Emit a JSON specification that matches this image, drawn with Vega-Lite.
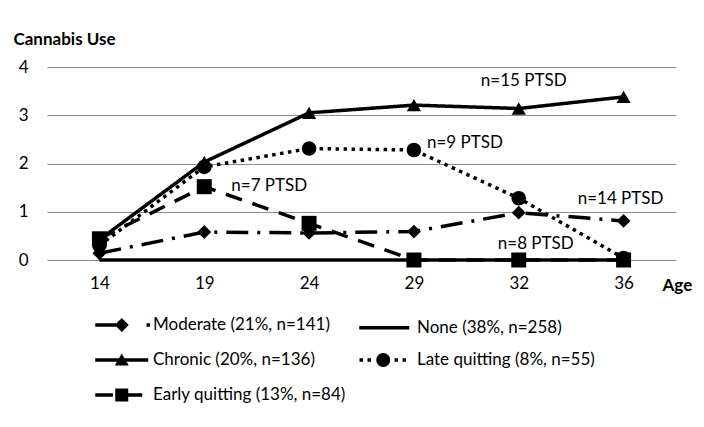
{
  "$schema": "https://vega.github.io/schema/vega-lite/v6.json",
  "width": 629,
  "height": 193,
  "autosize": {"type": "none"},
  "padding": {"left": 47, "top": 67, "right": 28, "bottom": 167},
  "background": "white",
  "config": {
    "font": "Lato",
    "view": {"stroke": null},
    "axis": {"labelFont": "Lato", "labelFontSize": 17, "labelColor": "black", "titleFont": "Lato", "titleFontSize": 17, "titleColor": "black", "titleFontWeight": "bold", "ticks": false, "domain": false}
  },
  "datasets": {
    "series": [
      {"group": "Moderate (21%, n=141)", "age": "14", "use": 0.14},
      {"group": "Moderate (21%, n=141)", "age": "19", "use": 0.58},
      {"group": "Moderate (21%, n=141)", "age": "24", "use": 0.56},
      {"group": "Moderate (21%, n=141)", "age": "29", "use": 0.59},
      {"group": "Moderate (21%, n=141)", "age": "32", "use": 0.98},
      {"group": "Moderate (21%, n=141)", "age": "36", "use": 0.81},
      {"group": "None (38%, n=258)", "age": "14", "use": 0},
      {"group": "None (38%, n=258)", "age": "19", "use": 0},
      {"group": "None (38%, n=258)", "age": "24", "use": 0},
      {"group": "None (38%, n=258)", "age": "29", "use": 0},
      {"group": "None (38%, n=258)", "age": "32", "use": 0},
      {"group": "None (38%, n=258)", "age": "36", "use": 0},
      {"group": "Chronic (20%, n=136)", "age": "14", "use": 0.42},
      {"group": "Chronic (20%, n=136)", "age": "19", "use": 2.03},
      {"group": "Chronic (20%, n=136)", "age": "24", "use": 3.05},
      {"group": "Chronic (20%, n=136)", "age": "29", "use": 3.21},
      {"group": "Chronic (20%, n=136)", "age": "32", "use": 3.14},
      {"group": "Chronic (20%, n=136)", "age": "36", "use": 3.38},
      {"group": "Late quitting (8%, n=55)", "age": "14", "use": 0.3},
      {"group": "Late quitting (8%, n=55)", "age": "19", "use": 1.93},
      {"group": "Late quitting (8%, n=55)", "age": "24", "use": 2.31},
      {"group": "Late quitting (8%, n=55)", "age": "29", "use": 2.28},
      {"group": "Late quitting (8%, n=55)", "age": "32", "use": 1.28},
      {"group": "Late quitting (8%, n=55)", "age": "36", "use": 0.04},
      {"group": "Early quitting (13%, n=84)", "age": "14", "use": 0.44},
      {"group": "Early quitting (13%, n=84)", "age": "19", "use": 1.52},
      {"group": "Early quitting (13%, n=84)", "age": "24", "use": 0.76},
      {"group": "Early quitting (13%, n=84)", "age": "29", "use": 0},
      {"group": "Early quitting (13%, n=84)", "age": "32", "use": 0},
      {"group": "Early quitting (13%, n=84)", "age": "36", "use": 0}
    ]
  },
  "resolve": {"scale": {"shape": "independent", "size": "independent"}, "legend": {"shape": "independent"}},
  "encoding": {
    "x": {"field": "age", "type": "ordinal", "scale": {"type": "point", "padding": 0.5, "domain": ["14", "19", "24", "29", "32", "36"]},
      "axis": {"title": "Age", "labelAngle": 0, "labelPadding": 15, "titleAngle": 0, "titleAlign": "left", "titleBaseline": "middle", "titleX": 615, "titleY": 25, "grid": false}},
    "y": {"field": "use", "type": "quantitative", "scale": {"domain": [0, 4], "nice": false, "zero": true},
      "axis": {"title": "Cannabis Use", "values": [0, 1, 2, 3, 4], "grid": true, "gridColor": "#8c8c8c", "gridWidth": 1, "labelPadding": 19, "titleAngle": 0, "titleAlign": "left", "titleBaseline": "middle", "titleX": -34, "titleY": -28}}
  },
  "layer": [
    {
      "data": {"name": "series"},
      "mark": {"type": "line", "color": "black", "strokeWidth": 3.5},
      "encoding": {
        "strokeDash": {"field": "group", "type": "nominal",
          "scale": {"domain": ["Moderate (21%, n=141)", "None (38%, n=258)", "Chronic (20%, n=136)", "Late quitting (8%, n=55)", "Early quitting (13%, n=84)"],
                    "range": [[22, 9, 3, 9], [1, 0], [1, 0], [3.5, 4.5], [17, 11]]},
          "legend": null
        }
      }
    },
    {
      "data": {"name": "series"},
      "transform": [{"filter": "datum.group !== 'None (38%, n=258)'"}],
      "mark": {"type": "point", "filled": true, "color": "black", "opacity": 1, "strokeWidth": 0},
      "encoding": {
        "shape": {"field": "group", "type": "nominal",
          "scale": {"domain": ["Moderate (21%, n=141)", "Chronic (20%, n=136)", "Late quitting (8%, n=55)", "Early quitting (13%, n=84)"],
                    "range": ["diamond", "triangle-up", "circle", "square"]}, "legend": null},
        "size": {"field": "group", "type": "nominal",
          "scale": {"domain": ["Moderate (21%, n=141)", "Chronic (20%, n=136)", "Late quitting (8%, n=55)", "Early quitting (13%, n=84)"],
                    "range": [190, 225, 215, 210]}, "legend": null}
      }
    },
    {
      "data": {"name": "series"},
      "transform": [{"filter": "false"}],
      "mark": {"type": "point", "filled": true, "color": "black", "opacity": 1, "size": 400},
      "encoding": {
        "shape": {"field": "group", "type": "nominal",
          "scale": {"domain": ["Moderate (21%, n=141)", "None (38%, n=258)", "Chronic (20%, n=136)", "Late quitting (8%, n=55)", "Early quitting (13%, n=84)"],
                    "range": [
                      "M-1.175,-0.175H0.9V0.175H-1.175ZM1.475,-0.7L2.175,0L1.475,0.7L0.775,0ZM3.95,-0.175H4.3V0.175H3.95Z",
                      "M-1.175,-0.175H3.825V0.175H-1.175Z",
                      "M-1.175,-0.175H4.125V0.175H-1.175ZM1.475,-0.65L2.175,0.55L0.775,0.55Z",
                      "M-1.15,-0.175H-0.8V0.175H-1.15ZM-0.35,-0.175H0V0.175H-0.35ZM2.35,-0.175H2.7V0.175H2.35ZM3.15,-0.175H3.5V0.175H3.15ZM1.925,0L1.872,0.268L1.72,0.495L1.493,0.647L1.225,0.7L0.957,0.647L0.73,0.495L0.578,0.268L0.525,0L0.578,-0.268L0.73,-0.495L0.957,-0.647L1.225,-0.7L1.493,-0.647L1.72,-0.495L1.872,-0.268Z",
                      "M-1.175,-0.175H0.6V0.175H-1.175ZM0.825,-0.65H2.125V0.65H0.825ZM2.125,-0.175H3.525V0.175H2.125Z"
                    ]},
          "legend": {
            "title": null, "orient": "none", "direction": "horizontal", "legendX": 48, "legendY": 246, "columns": 2, "columnPadding": 6, "rowPadding": 7,
            "symbolSize": 400, "symbolStrokeWidth": 3.5, "symbolFillColor": "black", "symbolOpacity": 1,
            "labelOffset": 34, "labelFont": "Lato", "labelFontSize": 17, "labelColor": "black", "labelLimit": 400
          }
        }
      }
    },
    {
      "data": {"values": [{"age": "32", "use": 3.71, "note": "n=15 PTSD"}]},
      "mark": {"type": "text", "font": "Lato", "fontSize": 17, "color": "black", "align": "center", "baseline": "middle", "dx": 5},
      "encoding": {"text": {"field": "note"}}
    },
    {
      "data": {"values": [{"age": "29", "use": 2.42, "note": "n=9 PTSD"}]},
      "mark": {"type": "text", "font": "Lato", "fontSize": 17, "color": "black", "align": "center", "baseline": "middle", "dx": 51},
      "encoding": {"text": {"field": "note"}}
    },
    {
      "data": {"values": [{"age": "19", "use": 1.53, "note": "n=7 PTSD"}]},
      "mark": {"type": "text", "font": "Lato", "fontSize": 17, "color": "black", "align": "center", "baseline": "middle", "dx": 65},
      "encoding": {"text": {"field": "note"}}
    },
    {
      "data": {"values": [{"age": "36", "use": 1.26, "note": "n=14 PTSD"}]},
      "mark": {"type": "text", "font": "Lato", "fontSize": 17, "color": "black", "align": "center", "baseline": "middle", "dx": -3},
      "encoding": {"text": {"field": "note"}}
    },
    {
      "data": {"values": [{"age": "32", "use": 0.33, "note": "n=8 PTSD"}]},
      "mark": {"type": "text", "font": "Lato", "fontSize": 17, "color": "black", "align": "center", "baseline": "middle", "dx": 17},
      "encoding": {"text": {"field": "note"}}
    }
  ]
}
